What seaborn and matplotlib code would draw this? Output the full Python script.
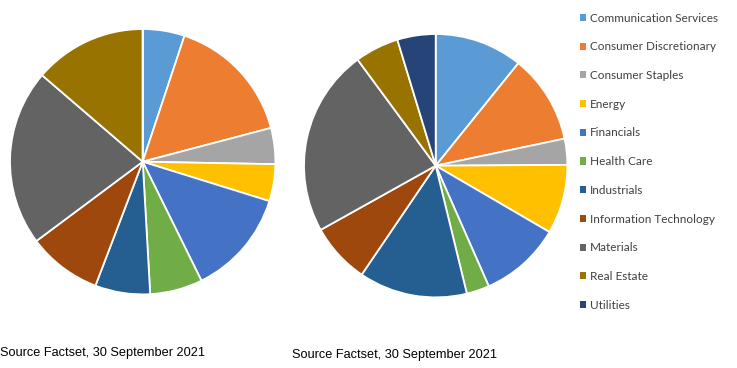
import matplotlib
matplotlib.use("Agg")
import matplotlib.pyplot as plt
import seaborn as sns
from matplotlib.patches import Patch

sectors = [
    "Communication Services", "Consumer Discretionary", "Consumer Staples", "Energy",
    "Financials", "Health Care", "Industrials", "Information Technology",
    "Materials", "Real Estate", "Utilities",
]
left_weights = [5.1, 15.8, 4.4, 4.5, 12.9, 6.4, 6.7, 9.0, 21.5, 13.7, 0.0]
right_weights = [10.8, 10.9, 3.2, 8.5, 10.0, 2.8, 13.3, 7.4, 23.0, 5.4, 4.7]
sector_colors = [
    "#5B9BD5", "#ED7D31", "#A5A5A5", "#FFC000", "#4472C4", "#70AD47",
    "#255E91", "#9E480E", "#636363", "#997300", "#264478",
]
source_note = "Source Factset, 30 September 2021"

sns.set_theme(style="white")
palette = sns.color_palette(sector_colors)

W, H = 737, 368
fig = plt.figure(figsize=(W / 100, H / 100), dpi=100)


def px_axes(cx, cy, r):
    return fig.add_axes([(cx - r) / W, (H - cy - r) / H, 2 * r / W, 2 * r / H])


for (cx, cy, r), weights in [((142.7, 161.7, 134), left_weights), ((435.7, 165.7, 133), right_weights)]:
    ax = px_axes(cx, cy, r)
    ax.pie(weights, colors=palette, startangle=90, counterclock=False, radius=1,
           wedgeprops=dict(edgecolor="white", linewidth=1.3))
    ax.set_xlim(-1.01, 1.01)
    ax.set_ylim(-1.01, 1.01)
    ax.set_aspect("equal")
    ax.axis("off")

handles = [Patch(facecolor=c, edgecolor="none", label=s) for c, s in zip(palette, sectors)]
fig.legend(handles=handles, loc="upper left", bbox_to_anchor=(569 / W, 1 - 2 / H),
           frameon=False, prop={"family": "Lato", "size": 8.5}, handlelength=0.55,
           handleheight=0.55, handletextpad=0.3, labelspacing=1.5, labelcolor="#404040")

fig.text(0 / W, 1 - 353 / H, source_note, fontsize=9.2, family="Liberation Sans",
         va="center", ha="left", color="black")
fig.text(292 / W, 1 - 355 / H, source_note, fontsize=9.2, family="Liberation Sans",
         va="center", ha="left", color="black")

fig.savefig("out.png", dpi=100, facecolor="white")
